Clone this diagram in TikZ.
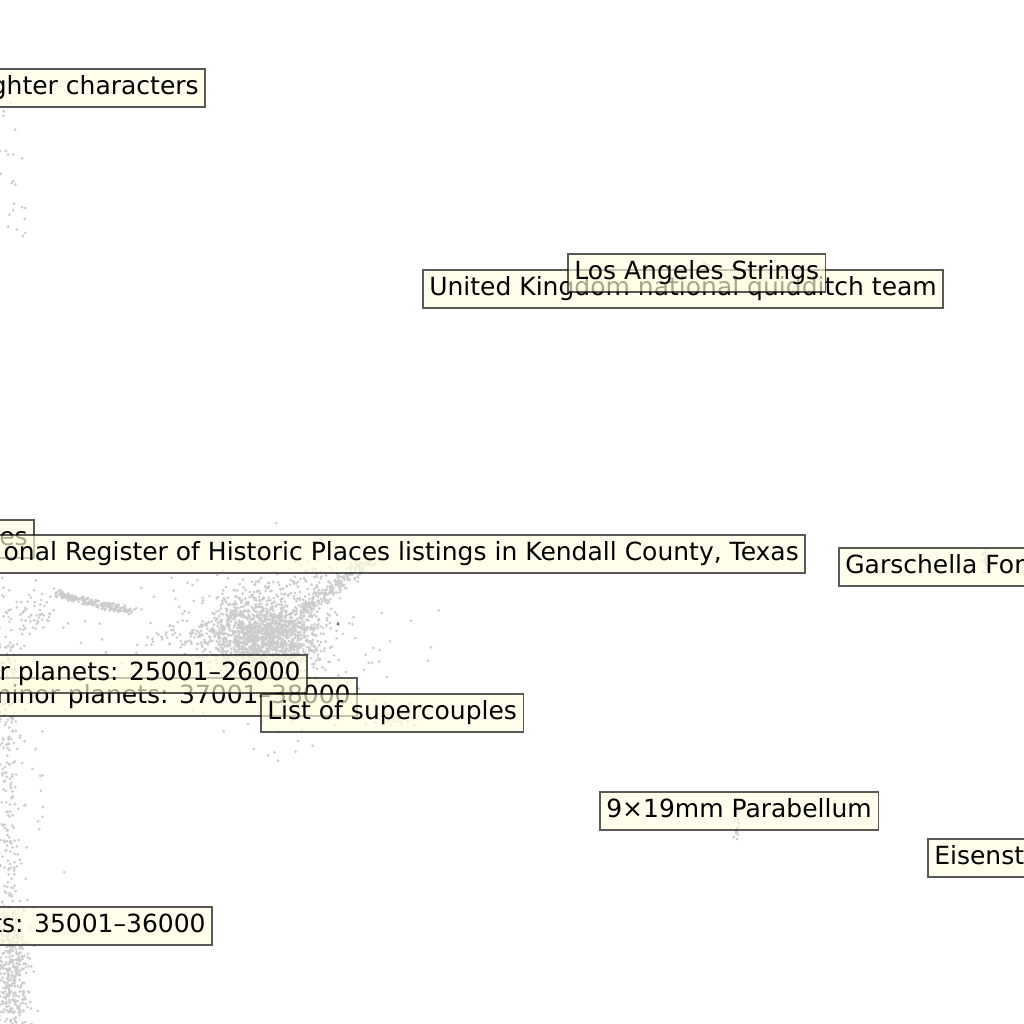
\documentclass[tikz,border=0pt]{standalone}
\usepackage{fontspec}
\setmainfont{DejaVu Sans}
\usepackage{tikz}

\definecolor{dotgray}{HTML}{CCCCCC}
\definecolor{lblyellow}{HTML}{FFFFE0}

\newcommand{\lblfont}{\fontsize{25}{30}\selectfont}

% cloud of dots: centre x, centre y, spread x, spread y, count
\newcommand{\dotcloud}[5]{%
  \foreach \k in {1,...,#5}{%
    \pgfmathsetmacro\px{#1+#3*(rnd+rnd+rnd+rnd-2)}%
    \pgfmathsetmacro\py{#2+#4*(rnd+rnd+rnd+rnd-2)}%
    \fill[dotgray] (\px,\py) circle (1.5);
  }}
% streak of dots from (x1,y1) to (x2,y2) with noise, count
\newcommand{\dotstreak}[6]{%
  \foreach \k in {1,...,#6}{%
    \pgfmathsetmacro\tt{rnd}%
    \pgfmathsetmacro\px{#1+(#3-#1)*\tt+#5*(rnd+rnd-1)}%
    \pgfmathsetmacro\py{#2+(#4-#2)*\tt+#5*(rnd+rnd-1)}%
    \fill[dotgray] (\px,\py) circle (1.5);
  }}

\tikzset{
  lbl/.style={draw=black, fill=lblyellow, draw opacity=0.65, fill opacity=0.65,
    text opacity=1, line width=1.6pt, inner xsep=6.5pt, inner ysep=6.5pt,
    text height=19pt, text depth=6pt, font=\lblfont}
}

\begin{document}
\begin{tikzpicture}[x=1pt, y=-1pt]
    \useasboundingbox (0,0) rectangle (1024,1024);
    \clip (0,0) rectangle (1024,1024);
    \pgfmathsetseed{7}

    % main cluster and its halo
    \dotcloud{265}{636}{48}{30}{1400}
    \dotcloud{268}{628}{100}{60}{320}
    \dotstreak{295}{615}{372}{560}{10}{200}
    \dotstreak{230}{605}{330}{572}{16}{90}
    \dotstreak{150}{640}{220}{630}{14}{60}
    % streak on the left
    \dotstreak{55}{594}{132}{612}{5}{200}
    \dotcloud{30}{618}{34}{28}{90}
    % left edge
    \dotstreak{6}{640}{10}{1020}{12}{240}
    \dotcloud{12}{975}{18}{45}{320}
    \dotcloud{18}{800}{26}{120}{70}
    \dotstreak{2}{100}{22}{240}{16}{24}
    % small clusters
    \dotcloud{706}{268}{4}{4}{14}
    \dotcloud{736}{818}{3}{16}{30}
    \dotcloud{986}{560}{4}{8}{20}
    \dotcloud{395}{715}{24}{10}{50}
    \dotcloud{300}{735}{70}{30}{16}
    \fill[black!65] (338,624) circle (1.5);

    % labels
    \node[lbl, anchor=east] (fighter) at (206,88) {ghter characters};
    \node[lbl, anchor=east] (es) at (35,539) {es};
    \node[lbl, anchor=east] (kendall) at (806,554) {onal Register of Historic Places listings in Kendall County, Texas};
    \node[lbl, anchor=west] (garschella) at (838,567) {Garschella For};
    \node[lbl, anchor=west] (quidditch) at (422,289) {United Kingdom national quidditch team};
    \node[lbl, anchor=west] (strings) at (567,273) {Los Angeles Strings};
    \node[lbl, anchor=east] (planetsB) at (358,697) {minor planets: 37001–38000};
    \node[lbl, anchor=east] (planetsA) at (308,674) {or planets: 25001–26000};
    \node[lbl, anchor=west] (couples) at (260,713) {List of supercouples};
    \node[lbl, anchor=east] (planetsC) at (213,926) {ts: 35001–36000};
    \node[lbl, anchor=west] (parabellum) at (599,811) {9×19mm Parabellum};
    \node[lbl, anchor=west] (eisen) at (927,858) {Eisenst};
\end{tikzpicture}
\end{document}
